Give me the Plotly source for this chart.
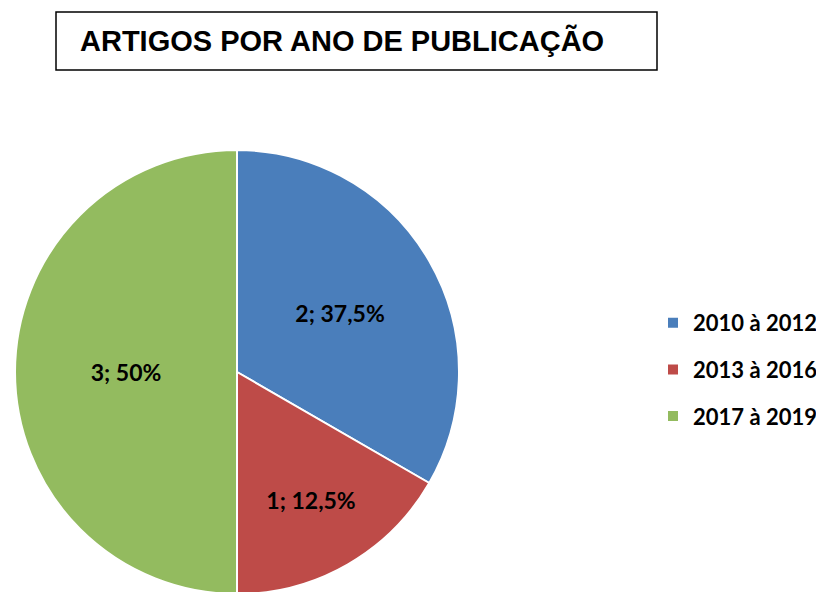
import plotly.graph_objects as go

categories = ["2010 à 2012", "2013 à 2016", "2017 à 2019"]
values = [2, 1, 3]
pct_labels = ["37,5%", "12,5%", "50%"]
colors = ["#4A7EBB", "#BE4B48", "#93BB5F"]
title_text = "ARTIGOS POR ANO DE PUBLICAÇÃO"

W, H = 824, 592
OFF = 8  # page body margin


def px(x):
    return (x - OFF) / W


def py(y):
    return 1 - (y - OFF) / H


fig = go.Figure()
fig.add_trace(go.Pie(
    labels=categories, values=values, text=pct_labels,
    texttemplate="%{value}; %{text}", textinfo="text",
    textposition="inside", insidetextorientation="horizontal",
    sort=False, direction="clockwise", rotation=0,
    marker=dict(colors=colors, line=dict(color="white", width=2)),
    textfont=dict(family="Lato", size=23, color="black", weight="bold"),
    domain=dict(x=[px(15), px(459)], y=[py(594), py(150)]),
    showlegend=False, hoverinfo="label+value",
))
for c, col in zip(categories, colors):
    fig.add_trace(go.Scatter(
        x=[None], y=[None], mode="markers", name=c, legendgroup=c,
        marker=dict(symbol="square", size=12, color=col,
                    line=dict(color="white", width=1)),
    ))

fig.add_shape(type="rect", xref="paper", yref="paper",
              x0=px(56), x1=px(657), y0=py(70), y1=py(12),
              line=dict(color="black", width=1.5), fillcolor="rgba(0,0,0,0)")
fig.add_annotation(text=title_text, xref="paper", yref="paper",
                   x=px(78), y=py(41), xanchor="left", yanchor="middle",
                   showarrow=False,
                   font=dict(family="Liberation Sans", size=29, color="black", weight="bold"))

fig.update_layout(
    width=W, height=H, margin=dict(l=0, r=0, t=0, b=0),
    paper_bgcolor="white", plot_bgcolor="white",
    xaxis=dict(visible=False), yaxis=dict(visible=False),
    legend=dict(x=px(653), y=py(302), xanchor="left", yanchor="top",
                tracegroupgap=15,
                font=dict(family="Lato", size=22, color="black", weight="bold"),
                itemsizing="constant"),
)
fig.write_html("out.html")
